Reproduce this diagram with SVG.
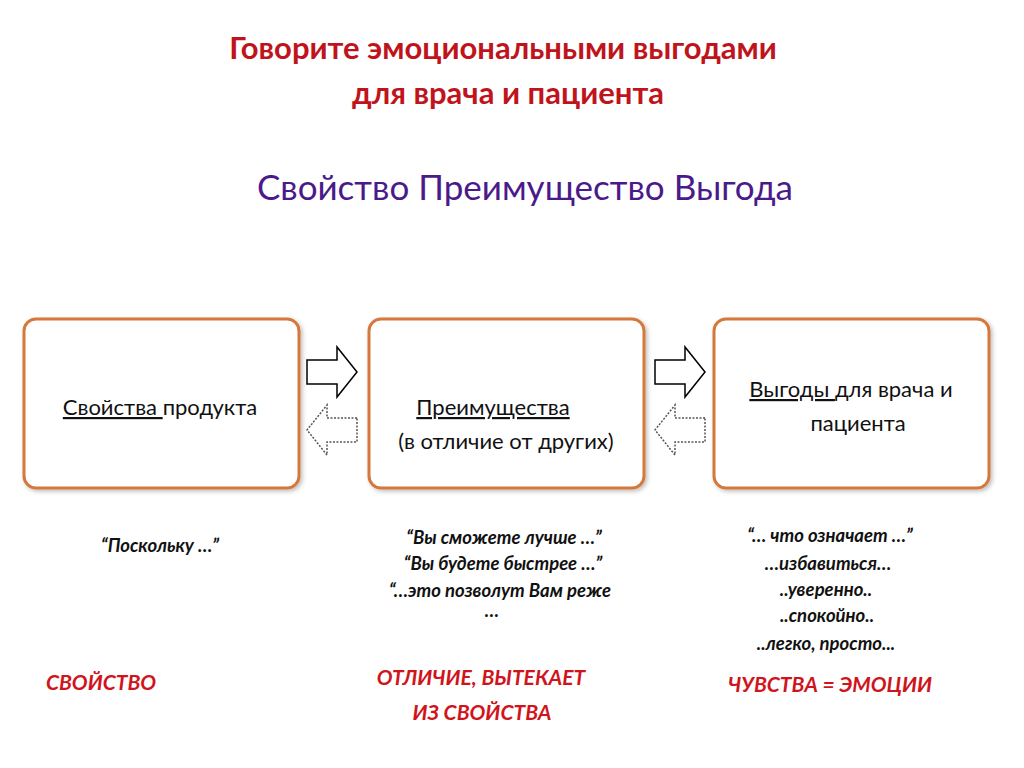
<svg xmlns="http://www.w3.org/2000/svg" width="1024" height="768" viewBox="0 0 1024 768">
<style>
text{font-family:Lato,"Open Sans",sans-serif}
.box{fill:#fff;stroke:#d4793b;stroke-width:3}
.t{font-size:22px;fill:#111;text-anchor:middle}
.q{font-size:18.5px;font-weight:bold;font-style:italic;fill:#111;text-anchor:middle}
.r{font-size:21px;font-weight:bold;font-style:italic;fill:#d0141c;text-anchor:middle}
.ar{fill:#fff;stroke:#000;stroke-width:1.5}
.ad{fill:#fff;stroke:#555;stroke-width:1.5;stroke-dasharray:2 1.5}
</style>
<defs><filter id="sh"><feDropShadow dx="2" dy="2" stdDeviation="2" flood-opacity="0.25"/></filter></defs>
<rect width="1024" height="768" fill="#fff"/>
<text x="503" y="59" font-size="31" font-weight="bold" fill="#c0141c" text-anchor="middle">Говорите эмоциональными выгодами</text>
<text x="508" y="104" font-size="31" font-weight="bold" fill="#c0141c" text-anchor="middle">для врача и пациента</text>
<text x="525" y="200" font-size="35" fill="#4b1a8a" text-anchor="middle">Свойство Преимущество Выгода</text>
<g id="n1"><rect class="box" filter="url(#sh)" x="24" y="319" width="275" height="169" rx="12"/>
<text class="t" x="160" y="415"><tspan text-decoration="underline">Свойства </tspan>продукта</text></g>
<g id="n2"><rect class="box" filter="url(#sh)" x="369" y="319" width="275" height="169" rx="12"/>
<text class="t" x="493" y="415" text-decoration="underline">Преимущества</text>
<text class="t" x="506" y="449">(в отличие от других)</text></g>
<g id="n3"><rect class="box" filter="url(#sh)" x="714" y="319" width="275" height="169" rx="12"/>
<text class="t" x="851" y="397"><tspan text-decoration="underline">Выгоды </tspan>для врача и</text>
<text class="t" x="858" y="431">пациента</text></g>
<g id="connectors">
<path class="ar" d="M307 360H337V347L357 372L337 397V384H307Z"/>
<path class="ad" d="M357 418H327V405L307 430L327 455V442H357Z"/>
<path class="ar" d="M655 360H685V347L705 372L685 397V384H655Z"/>
<path class="ad" d="M705 418H675V405L655 430L675 455V442H705Z"/>
</g>
<text class="q" x="160" y="552">“Поскольку …”</text>
<text class="q" x="504" y="544">“Вы сможете лучше …”</text>
<text class="q" x="503" y="570">“Вы будете быстрее …”</text>
<text class="q" x="500" y="597">“…это позволут Вам реже</text>
<text class="q" x="492" y="617">…</text>
<text class="q" x="830" y="542">“… что означает  …”</text>
<text class="q" x="828" y="570">…избавиться…</text>
<text class="q" x="826" y="596">..уверенно..</text>
<text class="q" x="827" y="622">..спокойно..</text>
<text class="q" x="826" y="650">..легко, просто...</text>
<text class="r" x="101" y="690">СВОЙСТВО</text>
<text class="r" x="481" y="685">ОТЛИЧИЕ, ВЫТЕКАЕТ</text>
<text class="r" x="482" y="720">ИЗ СВОЙСТВА</text>
<text class="r" x="830" y="692">ЧУВСТВА = ЭМОЦИИ</text>
</svg>
